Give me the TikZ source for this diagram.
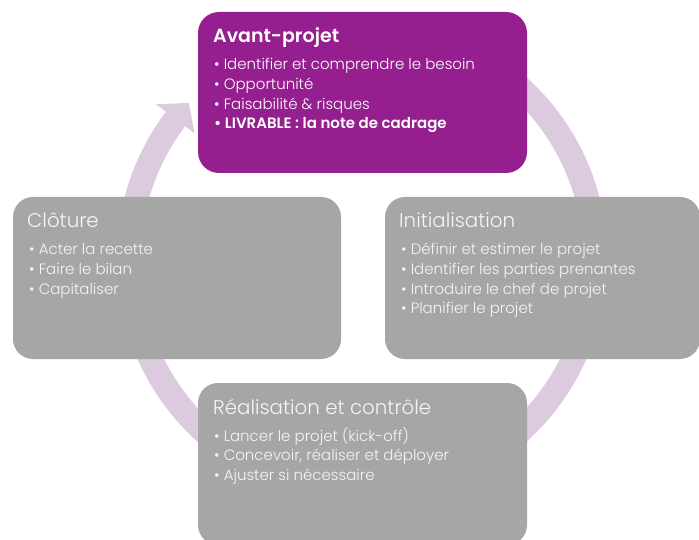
\documentclass[tikz,border=0pt]{standalone}
\usepackage{fontspec}
\setmainfont{Poppins}[UprightFont=* Light, BoldFont=* SemiBold]
\definecolor{purp}{RGB}{149,31,142}
\definecolor{boxgray}{RGB}{166,166,166}
\definecolor{ringc}{RGB}{220,202,222}
\definecolor{txtw}{RGB}{245,245,245}
\begin{document}
\begin{tikzpicture}[x=1pt,y=1pt,
  phasebox/.style={fill=boxgray, rounded corners=20pt},
  activebox/.style={fill=purp, rounded corners=21pt},
  ttl/.style={anchor=base west, inner sep=0pt, text=txtw, font=\fontsize{19.8}{22}\selectfont},
  ttlb/.style={anchor=base west, inner sep=0pt, text=white, font=\fontsize{19}{22}\selectfont\bfseries},
  itm/.style={anchor=base west, inner sep=0pt, text=txtw, font=\fontsize{15}{17}\selectfont},
  itmw/.style={anchor=base west, inner sep=0pt, text=white, font=\fontsize{15}{17}\selectfont},
]
\useasboundingbox (0,0) rectangle (699,539);
\fill[white] (0,0) rectangle (699,539);
% ring with arrow
\coordinate (c) at (362,279.5);
\begin{scope}[shift={(c)}]
  \fill[ringc] (100:245.5pt) arc[start angle=100, end angle=-217, radius=245.5pt]
     -- (-217:221.5pt) arc[start angle=-217, end angle=100, radius=221.5pt] -- cycle;
  \fill[ringc] (143:258pt) -- (137.9:233.5pt) -- (143:209.5pt) -- cycle;
\end{scope}
% boxes
\path[activebox] (198,366) rectangle (527,527);
\node[inner sep=0pt] (avant) at (362.5,446.5) {};
\path[phasebox] (13,180) rectangle (341,342);
\node[inner sep=0pt] (cloture) at (177,261) {};
\path[phasebox] (385,180) rectangle (700,342);
\node[inner sep=0pt] (init) at (542,261) {};
\path[phasebox] (198,-6) rectangle (527,156);
\node[inner sep=0pt] (real) at (362.5,75) {};
% Avant-projet texts
\node[ttlb] (t1) at (213,496) {Avant-projet};
\node[itmw] (a1) at (214,469) {• Identifier et comprendre le besoin};
\node[itmw] (a2) at (214,449.4) {• Opportunité};
\node[itmw] (a3) at (214,429.8) {• Faisabilité \& risques};
\node[itmw, font=\fontsize{15}{17}\selectfont\bfseries] (a4) at (214,410.2) {• LIVRABLE : la note de cadrage};
% Cloture texts
\node[ttl] (t2) at (27,311) {Clôture};
\node[itm] (c1) at (29,284) {• Acter la recette};
\node[itm] (c2) at (29,264.4) {• Faire le bilan};
\node[itm] (c3) at (29,244.8) {• Capitaliser};
% Initialisation texts
\node[ttl] (t3) at (399,311) {Initialisation};
\node[itm] (i1) at (401,284) {• Définir et estimer le projet};
\node[itm] (i2) at (401,264.4) {• Identifier les parties prenantes};
\node[itm] (i3) at (401,244.8) {• Introduire le chef de projet};
\node[itm] (i4) at (401,225.2) {• Planifier le projet};
% Realisation texts
\node[ttl] (t4) at (213,125) {Réalisation et contrôle};
\node[itm] (r1) at (214,98) {• Lancer le projet (kick-off)};
\node[itm] (r2) at (214,78.4) {• Concevoir, réaliser et déployer};
\node[itm] (r3) at (214,58.8) {• Ajuster si nécessaire};
\end{tikzpicture}
\end{document}
